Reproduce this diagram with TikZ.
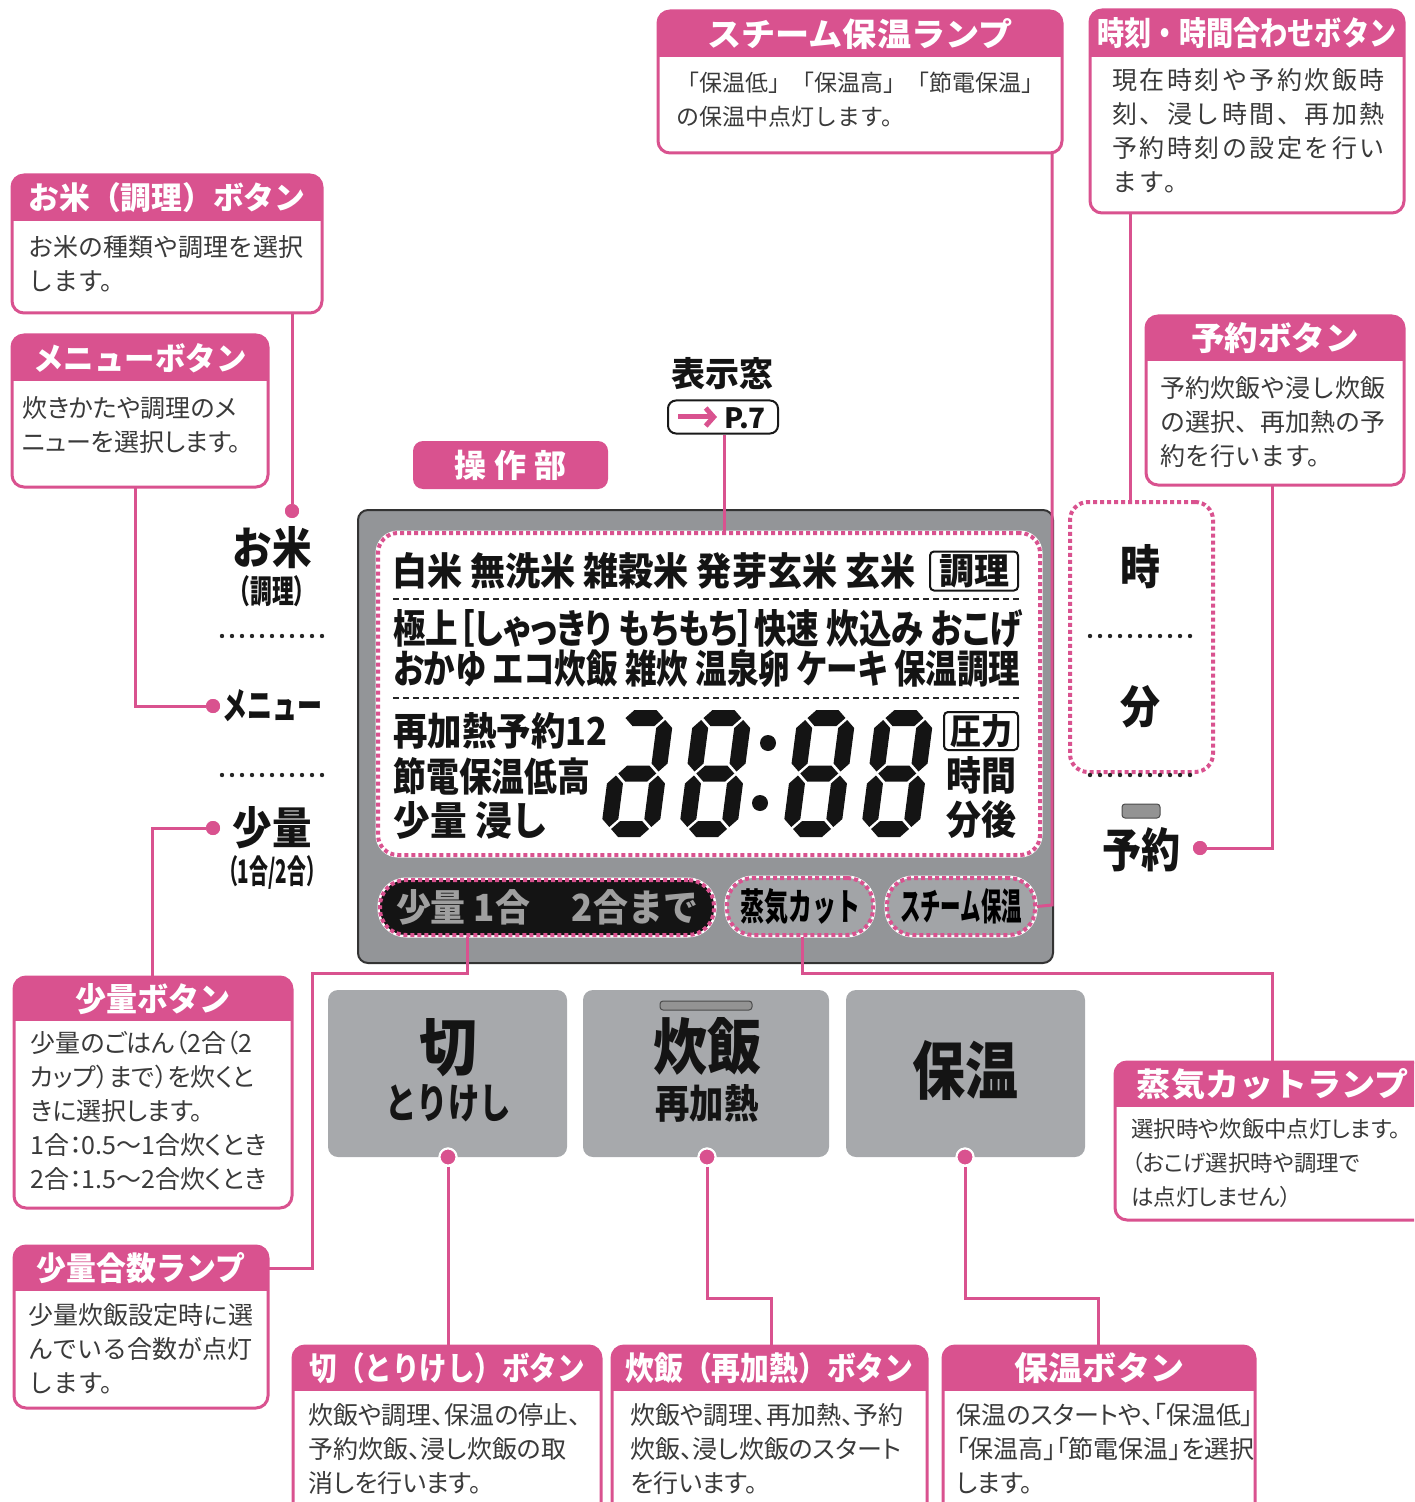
\documentclass[tikz,border=0pt]{standalone}
\usepackage{fontspec}
\usetikzlibrary{fit,arrows.meta}
\setmainfont{Noto Sans CJK JP}
\newfontfamily\jpp{Noto Sans CJK JP}[RawFeature=+palt]
\definecolor{pk}{HTML}{D9528F}
\definecolor{txtgray}{HTML}{3A3A3A}
\definecolor{panelgray}{HTML}{939598}
\definecolor{btngray}{HTML}{A7A9AC}
\definecolor{lampgray}{HTML}{A2A4A7}
\newlength\pxu \setlength\pxu{0.5pt}
% squeeze a text to a width and height given in pixels
\newcommand\fitw[3]{\resizebox{#1\pxu}{#2\pxu}{#3}}
% call-out: name, x1, y1, x2, y2, bottom of header, title
\newcommand\callbox[7]{%
  \begin{scope}
    \clip[rounded corners=6pt] (#2,#3) rectangle (#4,#5);
    \fill[white] (#2,#3) rectangle (#4,#5);
    \fill[pk] (#2,#3) rectangle (#4,#6);
  \end{scope}
  \draw[pk, line width=1.5pt, rounded corners=6pt] (#2,#3) rectangle (#4,#5);
  \node[inner sep=0pt, fit={(#2,#3) (#4,#5)}] (#1) {};
  \node[boxtitle] (#1-title) at ({(#2+#4)/2},{(#3+#6)/2}) {#7};
}
% segments of the clock digits
\newcommand\hseg[3]{\fill ({#1+2},#3) -- ({#1+10},{#3-8}) -- ({#2-10},{#3-8}) -- ({#2-2},#3) -- ({#2-10},{#3+8}) -- ({#1+10},{#3+8}) -- cycle;}
\newcommand\vseg[3]{\fill (#1,{#2+2}) -- ({#1+8},{#2+10}) -- ({#1+8},{#3-10}) -- (#1,{#3-2}) -- ({#1-8},{#3-10}) -- ({#1-8},{#2+10}) -- cycle;}
\newcommand\sega{\hseg{8}{50}{-119}}
\newcommand\segb{\vseg{50}{-119}{-63.5}}
\newcommand\segc{\vseg{50}{-63.5}{-8}}
\newcommand\segd{\hseg{8}{50}{-8}}
\newcommand\sege{\vseg{8}{-63.5}{-8}}
\newcommand\segf{\vseg{8}{-119}{-63.5}}
\newcommand\segg{\hseg{8}{50}{-63.5}}
\newcommand\lcddigit[2]{\begin{scope}[shift={(#1,837)}, xslant=0.13, black!92] #2 \end{scope}}

\begin{document}
\begin{tikzpicture}[x=0.5pt, y=-0.5pt,
  conn/.style={draw=pk, line width=1.5pt},
  pdot/.style={circle, fill=pk, inner sep=0pt, minimum size=7pt},
  bdot/.style={circle, fill=pk, draw=white, line width=1pt, inner sep=0pt, minimum size=8.5pt},
  boxtitle/.style={text=white, inner sep=0pt, font=\bfseries},
  boxbody/.style={anchor=north west, inner sep=0pt, align=left, text=txtgray, font=\fontsize{12.5}{17}\selectfont},
  pbody/.style={boxbody, font=\fontsize{12.5}{17}\jpp},
  pkdot/.style={draw=pk, line width=2pt, dash pattern=on 2pt off 1.5pt, preaction={draw=white, solid, line width=2.5pt}},
  blackdots/.style={draw=black!85, line width=2.2pt, dash pattern=on 0pt off 5pt, line cap=round},
  lcdtxt/.style={inner sep=0pt, text=black!92, font=\bfseries},
  lamp/.style={pkdot, rounded corners=13pt, inner sep=0pt, font=\bfseries},
  button/.style={fill=btngray, rounded corners=5pt, inner sep=0pt, minimum height=83.5pt},
  ]
\useasboundingbox (0,0) rectangle (1414,1502);
\clip (0,0) rectangle (1414,1502);

% call-outs
\callbox{kome}{12}{175}{322}{313}{221}{\fitw{277}{27}{お米（調理）ボタン}}
\node[boxbody] (kome-text) at (28,235) {お米の種類や調理を選択\\します。};
\callbox{menu}{12}{335}{268}{487}{381}{\fitw{213}{27}{メニューボタン}}
\node[pbody] (menu-text) at (22,396) {炊きかたや調理のメ\\ニューを選択します。};
\callbox{steam}{658}{11}{1062}{153}{57}{\fitw{305}{28}{スチーム保温ランプ}}
\node[boxbody, font=\fontsize{11.5}{17}\selectfont] (steam-text) at (676,72) {「保温低」「保温高」「節電保温」\\の保温中点灯します。};
\callbox{jikoku}{1090}{10}{1404}{213}{57}{\fitw{299}{28}{時刻・時間合わせボタン}}
\node[boxbody, font=\fontsize{12.5}{17}\selectfont\addfontfeature{LetterSpace=10}] (jikoku-text) at (1112,68) {現在時刻や予約炊飯時\\刻、浸し時間、再加熱\\予約時刻の設定を行い\\ます。};
\callbox{yoyaku}{1146}{316}{1404}{485}{361}{\fitw{168}{28}{予約ボタン}}
\node[boxbody] (yoyaku-text) at (1160,376) {予約炊飯や浸し炊飯\\の選択、再加熱の予\\約を行います。};
\callbox{shoryo}{14}{977}{292}{1208}{1021}{\fitw{155}{28}{少量ボタン}}
\node[pbody] (shoryo-text) at (30,1031) {少量のごはん（2合（2\\カップ）まで）を炊くと\\きに選択します。\\1合：0.5〜1合炊くとき\\2合：1.5〜2合炊くとき};
\callbox{shoryolamp}{14}{1246}{268}{1408}{1291}{\fitw{208}{28}{少量合数ランプ}}
\node[boxbody] (shoryolamp-text) at (28,1303) {少量炊飯設定時に選\\んでいる合数が点灯\\します。};
\callbox{kiri}{293}{1346}{601}{1520}{1391}{\fitw{275}{28}{切（とりけし）ボタン}}
\node[pbody] (kiri-text) at (308,1403) {炊飯や調理、保温の停止、\\予約炊飯、浸し炊飯の取\\消しを行います。};
\callbox{suihan}{612}{1346}{927}{1520}{1391}{\fitw{288}{28}{炊飯（再加熱）ボタン}}
\node[pbody] (suihan-text) at (630,1403) {炊飯や調理、再加熱、予約\\炊飯、浸し炊飯のスタート\\を行います。};
\callbox{hoon}{943}{1346}{1255}{1520}{1391}{\fitw{170}{28}{保温ボタン}}
\node[pbody] (hoon-text) at (956,1403) {保温のスタートや、「保温低」\\「保温高」「節電保温」を選択\\します。};
\callbox{johki}{1115}{1062}{1430}{1220}{1107}{\fitw{271}{28}{蒸気カットランプ}}
\node[pbody, font=\fontsize{11.2}{17}\jpp] (johki-text) at (1131,1118) {選択時や炊飯中点灯します。\\（おこげ選択時や調理で\\は点灯しません）};

% control panel
\filldraw[fill=panelgray, draw=black!80, line width=1pt, rounded corners=5pt] (358,510) rectangle (1053,963);
\node[fill=white, pkdot, rounded corners=10pt, inner sep=0pt, minimum width=331pt, minimum height=161pt] (lcd) at (709,694) {};
\draw[black!85, line width=1pt, dash pattern=on 3pt off 2pt] (393,599) -- (1020,599);
\draw[black!85, line width=1pt, dash pattern=on 3pt off 2pt] (393,698) -- (1020,698);
\node[lcdtxt, anchor=west] (row-rice) at (392,571) {\fitw{523}{33}{白米 無洗米 雑穀米 発芽玄米 玄米}};
\node[lcdtxt, draw=black!92, line width=1pt, rounded corners=2pt, minimum width=44pt, minimum height=19.5pt] (row-chori) at (974,571) {\fitw{70}{30}{調理}};
\node[lcdtxt, anchor=west] (row-menu1) at (393,629) {\fitw{629}{34}{\jpp\bfseries 極上［しゃっきり もちもち］快速 炊込み おこげ}};
\node[lcdtxt, anchor=west] (row-menu2) at (393,669) {\fitw{627}{34}{\jpp\bfseries おかゆ エコ炊飯 雑炊 温泉卵 ケーキ 保温調理}};
\node[lcdtxt, anchor=west] (row-yoyaku) at (393,731) {\fitw{214}{33}{再加熱予約12}};
\node[lcdtxt, anchor=west] (row-hoon) at (393,776) {\fitw{197}{34}{節電保温低高}};
\node[lcdtxt, anchor=west] (row-shoryo) at (393,820) {\fitw{155}{34}{少量 浸し}};
\node[lcdtxt, draw=black!92, line width=1pt, rounded corners=2pt, minimum width=37pt, minimum height=19pt] (row-atsu) at (981,731) {\fitw{62}{30}{圧力}};
\node[lcdtxt] (row-jikan) at (981,775) {\fitw{70}{34}{時間}};
\node[lcdtxt] (row-fungo) at (981,820) {\fitw{70}{34}{分後}};
% clock digits
\lcddigit{600}{\sega\segb\segc\segd\sege\segg}
\lcddigit{678}{\sega\segb\segc\segd\sege\segf\segg}
\lcddigit{782}{\sega\segb\segc\segd\sege\segf\segg}
\lcddigit{860}{\sega\segb\segc\segd\sege\segf\segg}
\fill[black!92] (768,743) circle (4pt) (760,803) circle (4pt);
% lamps
\node[lamp, fill=black!92, minimum width=167pt, minimum height=27.5pt] (lampshoryo) at (547,907.5) {\color{gray!75}\fitw{302}{32}{少量\ 1合\hspace{1.2em}2合まで}};
\node[lamp, fill=lampgray, minimum width=73pt, minimum height=28.5pt] (lampjohki) at (800,906.5) {\fitw{120}{32}{蒸気カット}};
\node[lamp, fill=lampgray, minimum width=74pt, minimum height=28.5pt] (lampsteam) at (961,906.5) {\fitw{122}{32}{スチーム保温}};

% labels beside the panel
\node[lcdtxt] (lbl-kome) at (272,548) {\fitw{79}{38}{お米}};
\node[lcdtxt] (lbl-chori) at (272,591) {\fitw{87}{28}{（調理）}};
\draw[blackdots] (222,636) -- (322,636);
\node[lcdtxt] (lbl-menu) at (272,706) {\fitw{100}{30}{メニュー}};
\draw[blackdots] (222,775) -- (322,775);
\node[lcdtxt] (lbl-shoryo) at (272,828) {\fitw{79}{38}{少量}};
\node[lcdtxt] (lbl-go) at (272,872) {\fitw{106}{28}{（1合/2合）}};

\node[pkdot, rounded corners=9pt, minimum width=71.5pt, minimum height=135pt] (jifun) at (1141.5,637) {};
\node[lcdtxt] (lbl-ji) at (1140,567) {\fitw{40}{40}{時}};
\draw[blackdots] (1090,636) -- (1190,636);
\node[lcdtxt] (lbl-fun) at (1140,707) {\fitw{40}{38}{分}};
\draw[blackdots] (1090,775) -- (1190,775);
\filldraw[fill=gray!85, draw=black!70, line width=0.5pt, rounded corners=1.5pt] (1122,804) rectangle (1160,818);
\node[lcdtxt] (lbl-yoyaku) at (1141,850) {\fitw{78}{40}{予約}};

% display window and panel name
\node[lcdtxt] (hyoji) at (722,374) {\fontsize{17}{17}\selectfont 表示窓};
\node[draw=black!90, line width=1pt, rounded corners=4pt, minimum width=55pt, minimum height=16.5pt, inner sep=0pt] (pseven) at (723,417) {};
\draw[pk, line width=2.5pt, -{Straight Barb[length=4pt,width=9pt]}] (678,417) -- (717,417);
\node[lcdtxt] (pseven-text) at (745,418) {\fontsize{14}{14}\selectfont P.7};
\node[fill=pk, rounded corners=5pt, minimum width=97.5pt, minimum height=24pt, inner sep=0pt, text=white, font=\fontsize{16}{16}\selectfont\bfseries] (sosabu) at (510.5,465) {操\hspace{0.25em}作\hspace{0.25em}部};

% buttons
\node[button, minimum width=119.5pt] (btnkiri) at (447.5,1073.5) {};
\node[button, minimum width=123pt] (btnsuihan) at (706,1073.5) {};
\node[button, minimum width=119.5pt] (btnhoon) at (965.5,1073.5) {};
\node[lcdtxt] (btnkiri-1) at (448,1048) {\fitw{58}{52}{切}};
\node[lcdtxt] (btnkiri-2) at (448,1103) {\fitw{126}{34}{とりけし}};
\filldraw[fill=gray!85, draw=black!70, line width=0.5pt, rounded corners=1.5pt] (660,1001) rectangle (752,1010);
\node[lcdtxt] (btnsuihan-1) at (707,1046) {\fitw{108}{52}{炊飯}};
\node[lcdtxt] (btnsuihan-2) at (707,1103) {\fitw{103}{34}{再加熱}};
\node[lcdtxt] (btnhoon-1) at (965,1070) {\fitw{106}{54}{保温}};

% connectors
\node[pdot] (komedot) at (292,511) {};
\node[pdot] (menudot) at (213,706) {};
\node[pdot] (shoryodot) at (213,828) {};
\node[pdot] (yoyakudot) at (1200,848) {};
\node[bdot] (kiridot) at (448,1157) {};
\node[bdot] (suihandot) at (707,1157) {};
\node[bdot] (hoondot) at (965,1157) {};
\coordinate (menubend) at (135,706);
\coordinate (shoryobend) at (152,828);
\coordinate (lampbend1) at (467,973);
\coordinate (lampbend2) at (312,973);
\coordinate (steambend) at (1052,905);
\coordinate (jikokuleg) at (1130,213);
\coordinate (yoyakubend) at (1272,848);
\coordinate (johkibend1) at (802,973);
\coordinate (johkibend2) at (1272,973);
\coordinate (suihanbend) at (771,1298);
\coordinate (hoonbend) at (1098,1298);
\draw[conn] (kome.south -| komedot) -- (komedot);
\draw[conn] (menu.south -| menubend) -- (menubend) -- (menudot);
\draw[conn] (shoryodot) -- (shoryobend) -- (shoryobend |- shoryo.north);
\draw[conn] (lampbend1 |- lampshoryo.south) -- (lampbend1) -- (lampbend2) -- (lampbend2 |- shoryolamp-title) -- (shoryolamp.east |- shoryolamp-title);
\draw[conn] (steam.south -| steambend) -- (steambend) -- (lampsteam.east);
\draw[conn] (jikokuleg) -- (jikokuleg |- jifun.north);
\draw[conn] (yoyaku.south -| yoyakubend) -- (yoyakubend) -- (yoyakudot);
\draw[conn] (pseven.south -| 724,0) -- (lcd.north -| 724,0);
\draw[conn] (johkibend1 |- lampjohki.south) -- (johkibend1) -- (johkibend2) -- (johkibend2 |- johki.north);
\draw[conn] (kiridot) -- (kiridot |- kiri.north);
\draw[conn] (suihandot) -- (suihandot |- suihanbend) -- (suihanbend) -- (suihanbend |- suihan.north);
\draw[conn] (hoondot) -- (hoondot |- hoonbend) -- (hoonbend) -- (hoonbend |- hoon.north);
\node[pdot] at (komedot) {};
\node[pdot] at (menudot) {};
\node[pdot] at (shoryodot) {};
\node[pdot] at (yoyakudot) {};
\node[bdot] at (kiridot) {};
\node[bdot] at (suihandot) {};
\node[bdot] at (hoondot) {};
\end{tikzpicture}
\end{document}
